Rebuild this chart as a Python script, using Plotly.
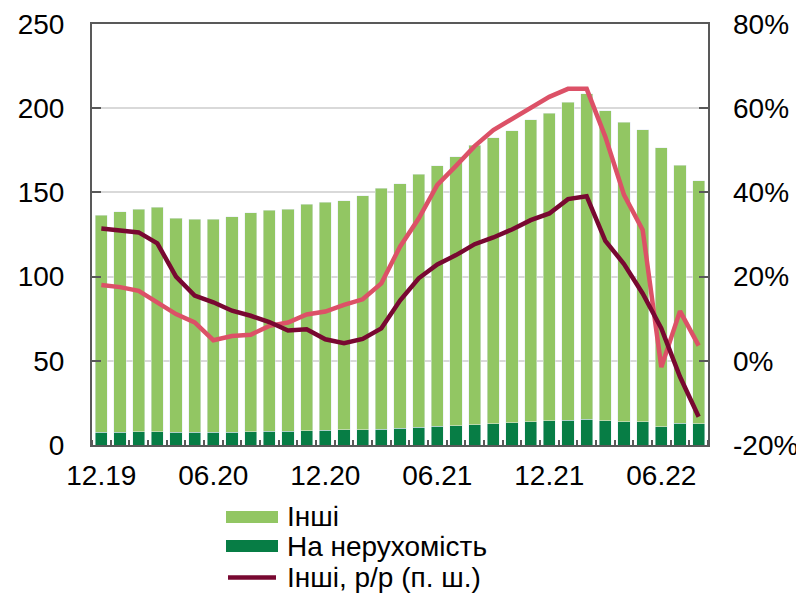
import plotly.graph_objects as go

months = ["12.19","01.20","02.20","03.20","04.20","05.20","06.20","07.20","08.20","09.20","10.20","11.20",
          "12.20","01.21","02.21","03.21","04.21","05.21","06.21","07.21","08.21","09.21","10.21","11.21",
          "12.21","01.22","02.22","03.22","04.22","05.22","06.22","07.22","08.22"]

real_estate = [7.7, 7.7, 7.8, 7.8, 7.6, 7.6, 7.6, 7.6, 7.9, 8.3, 8.3, 8.5, 8.9, 9.1, 9.1, 9.5, 9.9,
               10.5, 11.1, 11.5, 12.1, 12.5, 13.1, 13.7, 14.3, 14.8, 15.2, 14.3, 13.7, 13.7, 10.7, 12.9, 12.5]
total = [136.4, 138.6, 140.0, 141.1, 134.8, 134.0, 134.0, 135.6, 138.0, 139.4, 140.1, 142.9, 144.3, 145.1,
         148.1, 152.6, 155.0, 160.9, 165.9, 171.2, 178.1, 182.5, 186.5, 193.2, 197.1, 203.5, 208.6,
         198.5, 191.8, 187.1, 176.4, 166.1, 156.8]
other = [round(t - r, 1) for t, r in zip(total, real_estate)]

other_yoy = [31.4, 31.0, 30.5, 27.9, 20.0, 15.5, 13.9, 11.9, 10.7, 9.2, 7.2, 7.5, 5.1, 4.2, 5.2, 7.7, 14.3,
             19.6, 22.9, 25.1, 27.7, 29.3, 31.2, 33.4, 35.0, 38.4, 39.1, 28.5, 23.0, 16.0, 7.7, -3.8, -13.3]
real_estate_yoy = [18.0, 17.5, 16.6, 14.0, 11.1, 9.1, 4.9, 5.9, 6.2, 8.3, 9.1, 11.0, 11.7, 13.3, 14.6, 18.4, 27.1,
                   33.8, 41.8, 46.3, 51.0, 54.8, 57.4, 60.1, 62.7, 64.6, 64.6, 53.2, 39.4, 31.1, -1.5, 11.8, 3.6]

label_every = 6
y2_tickvals = [-20, 0, 20, 40, 60, 80]
y2_ticktext = ["-20%", "0%", "20%", "40%", "60%", "80%"]
names = ["Інші", "На нерухомість", "Інші, р/р (п. ш.)"]

C_LIGHT = "#92C663"
C_DARK = "#077D45"
C_MAROON = "#780831"
C_PINK = "#DC5167"
FONT = "Liberation Sans, Arial, sans-serif"
FS = 28

# figure-pixel geometry
W, H = 804, 593
L, T, PW, PH = 84, 16, 616, 421
R = W - L - PW
B = H - T - PH
def px(fx):
    return (fx - L) / PW
def py(fy):
    return (T + PH - fy) / PH

x = list(range(len(months)))

fig = go.Figure()
fig.add_trace(go.Bar(x=x, y=real_estate, marker_color=C_DARK, name=names[1], showlegend=False, yaxis="y"))
fig.add_trace(go.Bar(x=x, y=other, marker_color=C_LIGHT, name=names[0], showlegend=False, yaxis="y"))
fig.add_trace(go.Scatter(x=x, y=real_estate_yoy, mode="lines", line=dict(color=C_PINK, width=4.5),
                         showlegend=False, yaxis="y2"))
fig.add_trace(go.Scatter(x=x, y=other_yoy, mode="lines", line=dict(color=C_MAROON, width=4.5),
                         name=names[2], showlegend=False, yaxis="y2"))

# manual legend (tight rows like the original)
sw_x0, sw_x1, txt_x = 218, 270, 277
rows = [509, 538, 569.5]
shapes = [
    dict(type="rect", xref="paper", yref="paper", x0=px(sw_x0), x1=px(sw_x1),
         y0=py(rows[0] - 6), y1=py(rows[0] + 6), fillcolor=C_LIGHT, line_width=0),
    dict(type="rect", xref="paper", yref="paper", x0=px(sw_x0), x1=px(sw_x1),
         y0=py(rows[1] - 6), y1=py(rows[1] + 6), fillcolor=C_DARK, line_width=0),
    dict(type="line", xref="paper", yref="paper", x0=px(sw_x0 + 2), x1=px(sw_x1 - 2),
         y0=py(rows[2]), y1=py(rows[2]), line=dict(color=C_MAROON, width=4.5)),
]
annotations = [
    dict(text=n, xref="paper", yref="paper", x=px(txt_x), y=py(r), xanchor="left", yanchor="middle",
         showarrow=False, font=dict(size=FS, family=FONT, color="black"))
    for n, r in zip(names, rows)
]

axis_col = "#595959"
fig.update_layout(
    width=W, height=H,
    margin=dict(l=L, r=R, t=T, b=B, autoexpand=False),
    paper_bgcolor="white", plot_bgcolor="white",
    barmode="stack", bargap=0.34,
    showlegend=False,
    font=dict(family=FONT, size=FS, color="black"),
    shapes=shapes, annotations=annotations,
    xaxis=dict(range=[-0.5, len(months) - 0.5], automargin=False,
               tickvals=x[::label_every], ticktext=months[::label_every],
               ticks="", showgrid=False, zeroline=False, ticklabelstandoff=4,
               showline=True, linecolor=axis_col, linewidth=2, mirror=True,
               minor=dict(tick0=0.5, dtick=1, ticks="inside", ticklen=5, tickcolor=axis_col, tickwidth=1.5,
                          showgrid=False),
               tickfont=dict(size=FS)),
    yaxis=dict(range=[0, 250], dtick=50, ticks="inside", ticklen=9, tickcolor=axis_col, tickwidth=2,
               showgrid=True, gridcolor="#D9D9D9", gridwidth=1.5, zeroline=False, automargin=False,
               showline=True, linecolor=axis_col, linewidth=2, mirror=True, ticklabelstandoff=20,
               tickfont=dict(size=FS)),
    yaxis2=dict(range=[-20, 80], tickvals=y2_tickvals, ticktext=y2_ticktext, overlaying="y", side="right",
                ticks="inside", ticklen=9, tickcolor=axis_col, tickwidth=2, automargin=False,
                showgrid=False, zeroline=False, showline=False, ticklabelstandoff=24,
                tickfont=dict(size=FS)),
)

fig.write_html("out.html")
